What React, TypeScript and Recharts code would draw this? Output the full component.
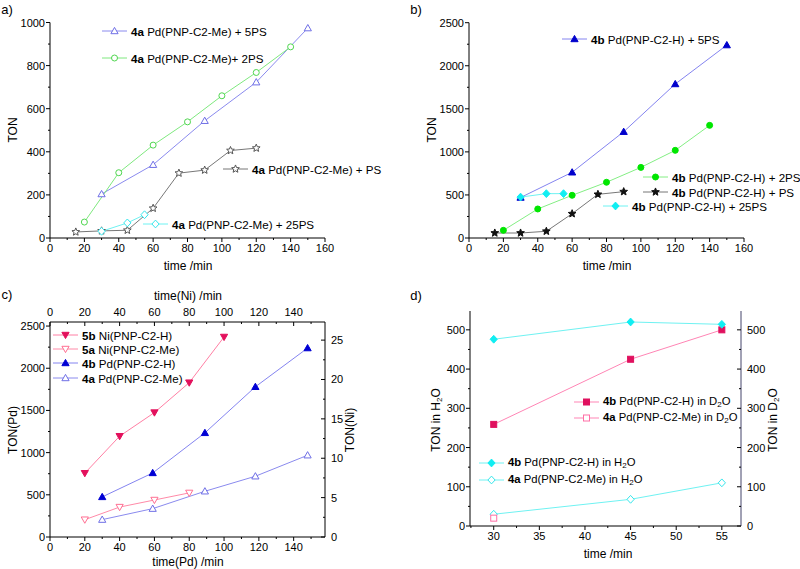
import React from "react";
import { LineChart, Line, XAxis, YAxis } from "recharts";

const FONT = '"Liberation Sans", Arial, Helvetica, sans-serif';

// ---------- panel a: 4a Pd(PNP-C2-Me) with different PS loadings ----------
const aTime5PS = [30, 60, 90, 120, 150];
const aTon5PS = [204, 340, 544, 723, 974];
const aTime2PS = [20, 40, 60, 80, 100, 120, 140];
const aTon2PS = [74, 303, 431, 539, 660, 768, 887];
const aTimePS = [15, 30, 45, 60, 75, 90, 105, 120];
const aTonPS = [28, 33, 36, 138, 301, 315, 406, 417];
const aTime25PS = [30, 45, 55];
const aTon25PS = [31, 70, 108];

// ---------- panel b: 4b Pd(PNP-C2-H) ----------
const bTime5PS = [30, 60, 90, 120, 150];
const bTon5PS = [470, 763, 1234, 1788, 2240];
const bTime2PS = [20, 40, 60, 80, 100, 120, 140];
const bTon2PS = [89, 337, 496, 647, 820, 1018, 1308];
const bTimePS = [15, 30, 45, 60, 75, 90];
const bTonPS = [58, 58, 78, 282, 507, 538];
const bTime25PS = [30, 45, 55];
const bTon25PS = [475, 515, 515];

// ---------- panel c: Ni vs Pd ----------
const cTimeNiH = [20, 40, 60, 80, 100];
const cTon5b = [8.1, 12.8, 15.8, 19.6, 25.4];
const cTimeNiMe = [20, 40, 60, 80];
const cTon5a = [2.2, 3.8, 4.7, 5.6];
const cTimePd = [30, 59, 89, 118, 148];
const cTon4b = [475, 759, 1234, 1780, 2239];
const cTon4a = [206, 336, 542, 720, 969];

// ---------- panel d: H2O vs D2O ----------
const dTime = [30, 45, 55];
const dTon4bD2O = [259, 425, 500];
const dTime4aD2O = [30];
const dTon4aD2O = [20];
const dTon4bH2O = [476, 520, 514];
const dTon4aH2O = [30, 68, 110];

// ---------- ticks ----------
const timeMajor = [0, 20, 40, 60, 80, 100, 120, 140, 160];
const timeMinor = [10, 30, 50, 70, 90, 110, 130, 150];
const aYMajor = [0, 200, 400, 600, 800, 1000];
const aYMinor = [100, 300, 500, 700, 900];
const bYMajor = [0, 500, 1000, 1500, 2000, 2500];
const bYMinor = [250, 750, 1250, 1750, 2250];
const cTimeMajor = [0, 20, 40, 60, 80, 100, 120, 140];
const cNiMajor = [0, 5, 10, 15, 20, 25];
const cNiMinor = [2.5, 7.5, 12.5, 17.5, 22.5];
const dXMajor = [30, 35, 40, 45, 50, 55];
const dXMinor = [27.5, 32.5, 37.5, 42.5, 47.5, 52.5];
const dYMajor = [0, 100, 200, 300, 400, 500];
const dYMinor = [50, 150, 250, 350, 450];

// reserved axis room (margins below are reduced by these)
const AXH = 20;
const AXW = 30;

type Kind = "tri" | "triDown" | "circle" | "star" | "diamond" | "square";

type Series = {
  xs: number[];
  ys: number[];
  line: string;
  kind: Kind;
  fill: string;
  stroke: string;
  yAxisId?: string;
};

function Mark({ cx, cy, kind, fill, stroke, r = 3 }: { cx: number; cy: number; kind: Kind; fill: string; stroke: string; r?: number }) {
  const p = { fill, stroke, strokeWidth: 1 };
  if (kind === "circle") return <circle cx={cx} cy={cy} r={r} {...p} />;
  if (kind === "square") return <rect x={cx - r} y={cy - r} width={r * 2} height={r * 2} {...p} />;
  if (kind === "tri")
    return <polygon points={`${cx},${cy - r * 1.2} ${cx - r * 1.2},${cy + r * 0.9} ${cx + r * 1.2},${cy + r * 0.9}`} {...p} />;
  if (kind === "triDown")
    return <polygon points={`${cx},${cy + r * 1.2} ${cx - r * 1.2},${cy - r * 0.9} ${cx + r * 1.2},${cy - r * 0.9}`} {...p} />;
  if (kind === "diamond")
    return <polygon points={`${cx},${cy - r * 1.3} ${cx + r * 1.2},${cy} ${cx},${cy + r * 1.3} ${cx - r * 1.2},${cy}`} {...p} />;
  // star
  const pts: string[] = [];
  for (let i = 0; i < 10; i++) {
    const rad = i % 2 === 0 ? r * 1.35 : r * 0.6;
    const a = -Math.PI / 2 + (i * Math.PI) / 5;
    pts.push(`${cx + rad * Math.cos(a)},${cy + rad * Math.sin(a)}`);
  }
  return <polygon points={pts.join(" ")} {...p} />;
}

type Side = "bottom" | "left" | "right" | "top";

// custom tick: draws the tick line itself (major 4px, minor 2px) and a label for majors
function tickRenderer(side: Side, majors: number[], inward = false) {
  return (props: any) => {
    const { x, y, payload } = props;
    const v = payload.value;
    const major = majors.includes(v);
    const L = major ? 4 : 2;
    const d = inward ? -1 : 1;
    let x2 = x, y2 = y, tx = x, ty = y, anchor: "middle" | "end" | "start" = "middle";
    if (side === "bottom") { y2 = y + d * L; ty = y + 14; }
    if (side === "top") { y2 = y - d * L; ty = y - 6; }
    if (side === "left") { x2 = x - d * L; tx = x - 5; ty = y + 4; anchor = "end"; }
    if (side === "right") { x2 = x + d * L; tx = x + 6; ty = y + 4; anchor = "start"; }
    return (
      <g>
        <line x1={x} y1={y} x2={x2} y2={y2} stroke="#000" strokeWidth={1} />
        {major && (
          <text x={tx} y={ty} textAnchor={anchor} fontSize={11} fontFamily={FONT} fill="#000">
            {v}
          </text>
        )}
      </g>
    );
  };
}

const toPts = (xs: number[], ys: number[]) => xs.map((x, i) => ({ x, y: ys[i] }));

function renderLine(s: Series, key: string) {
  return (
    <Line
      key={key}
      data={toPts(s.xs, s.ys)}
      dataKey="y"
      xAxisId="x"
      yAxisId={s.yAxisId ?? "y"}
      type="linear"
      stroke={s.line}
      strokeWidth={1}
      isAnimationActive={false}
      activeDot={false}
      dot={(p: any) => <Mark key={`${key}-${p.index}`} cx={p.cx} cy={p.cy} kind={s.kind} fill={s.fill} stroke={s.stroke} />}
    />
  );
}

function xAxis(id: string, side: "bottom" | "top", domain: [number, number], majors: number[], minors: number[], inward = false) {
  return (
    <XAxis
      xAxisId={id}
      orientation={side}
      type="number"
      dataKey="x"
      domain={domain}
      allowDataOverflow
      ticks={[...majors, ...minors].sort((a, b) => a - b)}
      interval={0}
      height={AXH}
      tickSize={0}
      tickMargin={0}
      tickLine={false}
      axisLine={{ stroke: "#000" }}
      tick={tickRenderer(side, majors, inward)}
    />
  );
}

function yAxis(id: string, side: "left" | "right", domain: [number, number], majors: number[], minors: number[], inward = false, color = "#000") {
  return (
    <YAxis
      yAxisId={id}
      orientation={side}
      type="number"
      domain={domain}
      allowDataOverflow
      ticks={[...majors, ...minors].sort((a, b) => a - b)}
      interval={0}
      width={AXW}
      tickSize={0}
      tickMargin={0}
      tickLine={false}
      axisLine={{ stroke: color }}
      tick={tickRenderer(side, majors, inward)}
    />
  );
}

function Title({ x, y, rotate, size = 12, children }: { x: number; y: number; rotate?: boolean; size?: number; children: React.ReactNode }) {
  return (
    <div
      style={{
        position: "absolute",
        left: x,
        top: y,
        transform: `translate(-50%, -50%)${rotate ? " rotate(-90deg)" : ""}`,
        whiteSpace: "nowrap",
        fontSize: size,
        fontFamily: FONT,
        color: "#000",
        lineHeight: 1,
      }}
    >
      {children}
    </div>
  );
}

function LegendItem({ x, y, s, bold, children, len = 25, size = 11.6 }: { x: number; y: number; s: Series; bold: string; children: React.ReactNode; len?: number; size?: number }) {
  return (
    <div style={{ position: "absolute", left: x, top: y - 8, height: 16, display: "flex", alignItems: "center", whiteSpace: "nowrap", fontFamily: FONT, fontSize: size, color: "#000" }}>
      <svg width={len} height={12} style={{ display: "block" }}>
        <line x1={0} y1={6} x2={len} y2={6} stroke={s.line} strokeWidth={1} />
        <Mark cx={len / 2} cy={6} kind={s.kind} fill={s.fill} stroke={s.stroke} />
      </svg>
      <span style={{ marginLeft: 4 }}>
        <b>{bold}</b> {children}
      </span>
    </div>
  );
}

const sub = (t: string) => <sub style={{ fontSize: 8, verticalAlign: -2 }}>{t}</sub>;

// ---------- series styles ----------
const sA5: Series = { xs: aTime5PS, ys: aTon5PS, line: "#8a8aee", kind: "tri", fill: "#fff", stroke: "#6f6fe6" };
const sA2: Series = { xs: aTime2PS, ys: aTon2PS, line: "#7ee87e", kind: "circle", fill: "#fff", stroke: "#4fd64f" };
const sA1: Series = { xs: aTimePS, ys: aTonPS, line: "#777", kind: "star", fill: "#fff", stroke: "#555" };
const sA25: Series = { xs: aTime25PS, ys: aTon25PS, line: "#6ff2f2", kind: "diamond", fill: "#fff", stroke: "#36e6ec" };

const sB5: Series = { xs: bTime5PS, ys: bTon5PS, line: "#8484f0", kind: "tri", fill: "#0000cc", stroke: "#0000cc" };
const sB2: Series = { xs: bTime2PS, ys: bTon2PS, line: "#84ee84", kind: "circle", fill: "#00e600", stroke: "#00e600" };
const sB1: Series = { xs: bTimePS, ys: bTonPS, line: "#777", kind: "star", fill: "#111", stroke: "#111" };
const sB25: Series = { xs: bTime25PS, ys: bTon25PS, line: "#6ff2f2", kind: "diamond", fill: "#10eef2", stroke: "#10eef2" };

const sC5b: Series = { xs: cTimeNiH, ys: cTon5b, line: "#ff7fa4", kind: "triDown", fill: "#e3105c", stroke: "#e3105c", yAxisId: "r" };
const sC5a: Series = { xs: cTimeNiMe, ys: cTon5a, line: "#ff8aa8", kind: "triDown", fill: "#fff", stroke: "#ff6f92", yAxisId: "r" };
const sC4b: Series = { xs: cTimePd, ys: cTon4b, line: "#8484f0", kind: "tri", fill: "#0000d4", stroke: "#0000d4" };
const sC4a: Series = { xs: cTimePd, ys: cTon4a, line: "#8a8aee", kind: "tri", fill: "#fff", stroke: "#6f6fe6" };

const sD4bD: Series = { xs: dTime, ys: dTon4bD2O, line: "#ff85b5", kind: "square", fill: "#e0105e", stroke: "#e0105e", yAxisId: "r" };
const sD4aD: Series = { xs: dTime4aD2O, ys: dTon4aD2O, line: "#ff85b5", kind: "square", fill: "#fff", stroke: "#ff6fa6", yAxisId: "r" };
const sD4bH: Series = { xs: dTime, ys: dTon4bH2O, line: "#6ff2f2", kind: "diamond", fill: "#10eef2", stroke: "#10eef2" };
const sD4aH: Series = { xs: dTime, ys: dTon4aH2O, line: "#6ff2f2", kind: "diamond", fill: "#fff", stroke: "#36e6ec" };

export default function App() {
  return (
    <div style={{ position: "absolute", left: 0, top: 0, width: 800, height: 569, background: "#fff", fontFamily: FONT, overflow: "hidden" }}>
      {/* panel a: plot box x 50-325, y 22.5-238 */}
      <div style={{ position: "absolute", left: 0, top: 0 }}>
        <LineChart width={400} height={280} margin={{ top: 22.5, right: 75, bottom: 42 - AXH, left: 50 - AXW }}>
          {xAxis("x", "bottom", [0, 160], timeMajor, timeMinor)}
          {yAxis("y", "left", [0, 1000], aYMajor, aYMinor)}
          {renderLine(sA5, "a5")}
          {renderLine(sA2, "a2")}
          {renderLine(sA1, "a1")}
          {renderLine(sA25, "a25")}
        </LineChart>
      </div>
      {/* panel b: plot box x 469-744, y 22.7-238 */}
      <div style={{ position: "absolute", left: 400, top: 0 }}>
        <LineChart width={400} height={280} margin={{ top: 22.7, right: 56, bottom: 42 - AXH, left: 69 - AXW }}>
          {xAxis("x", "bottom", [0, 160], timeMajor, timeMinor)}
          {yAxis("y", "left", [0, 2500], bYMajor, bYMinor)}
          {renderLine(sB5, "b5")}
          {renderLine(sB2, "b2")}
          {renderLine(sB1, "b1")}
          {renderLine(sB25, "b25")}
        </LineChart>
      </div>
      {/* panel c: plot box x 50-325, y 322-537 */}
      <div style={{ position: "absolute", left: 0, top: 280 }}>
        <LineChart width={400} height={289} margin={{ top: 42 - AXH, right: 75 - AXW, bottom: 32 - AXH, left: 50 - AXW }}>
          {xAxis("x", "bottom", [0, 158], cTimeMajor, timeMinor.slice(0, 8))}
          {xAxis("t", "top", [0, 158], cTimeMajor, timeMinor.slice(0, 8), true)}
          {yAxis("y", "left", [0, 2548], bYMajor, bYMinor)}
          {yAxis("r", "right", [0, 27.3], cNiMajor, cNiMinor, true)}
          {renderLine(sC4a, "c4a")}
          {renderLine(sC4b, "c4b")}
          {renderLine(sC5a, "c5a")}
          {renderLine(sC5b, "c5b")}
        </LineChart>
      </div>
      {/* panel d: plot box x 470-741, y 311-526 */}
      <div style={{ position: "absolute", left: 400, top: 280 }}>
        <LineChart width={400} height={289} margin={{ top: 31, right: 59 - AXW, bottom: 43 - AXH, left: 70 - AXW }}>
          {xAxis("x", "bottom", [27.4, 57.1], dXMajor, dXMinor)}
          {yAxis("y", "left", [0, 548], dYMajor, dYMinor)}
          {yAxis("r", "right", [0, 548], dYMajor, dYMinor, true, "#44446a")}
          {renderLine(sD4aH, "d4aH")}
          {renderLine(sD4bD, "d4bD")}
          {renderLine(sD4aD, "d4aD")}
          {renderLine(sD4bH, "d4bH")}
        </LineChart>
      </div>

      {/* panel letters */}
      <Title x={7} y={9} size={13}>a)</Title>
      <Title x={416} y={9} size={13}>b)</Title>
      <Title x={7} y={294} size={13}>c)</Title>
      <Title x={416} y={295} size={13}>d)</Title>

      {/* axis titles */}
      <Title x={13} y={130} rotate>TON</Title>
      <Title x={188} y={266}>time /min</Title>
      <Title x={432} y={130} rotate>TON</Title>
      <Title x={607} y={266}>time /min</Title>
      <Title x={188} y={296}>time(Ni) /min</Title>
      <Title x={13} y={430} rotate>TON(Pd)</Title>
      <Title x={350} y={430} rotate>TON(Ni)</Title>
      <Title x={188} y={562}>time(Pd) /min</Title>
      <Title x={437} y={420} rotate>TON in H{sub("2")}O</Title>
      <Title x={774} y={420} rotate>TON in D{sub("2")}O</Title>
      <Title x={608} y={554}>time /min</Title>

      {/* legends a */}
      <LegendItem x={102} y={31} s={sA5} bold="4a">Pd(PNP-C2-Me) + 5PS</LegendItem>
      <LegendItem x={102} y={58} s={sA2} bold="4a">Pd(PNP-C2-Me)+ 2PS</LegendItem>
      <LegendItem x={223} y={169} s={sA1} bold="4a">Pd(PNP-C2-Me) + PS</LegendItem>
      <LegendItem x={143} y={224} s={sA25} bold="4a">Pd(PNP-C2-Me) + 25PS</LegendItem>

      {/* legends b */}
      <LegendItem x={562} y={39} s={sB5} bold="4b">Pd(PNP-C2-H) + 5PS</LegendItem>
      <LegendItem x={643} y={177} s={sB2} bold="4b">Pd(PNP-C2-H) + 2PS</LegendItem>
      <LegendItem x={643} y={192} s={sB1} bold="4b">Pd(PNP-C2-H) + PS</LegendItem>
      <LegendItem x={603} y={206} s={sB25} bold="4b">Pd(PNP-C2-H) + 25PS</LegendItem>

      {/* legends c */}
      <LegendItem x={53} y={335} s={sC5b} bold="5b">Ni(PNP-C2-H)</LegendItem>
      <LegendItem x={53} y={349} s={sC5a} bold="5a">Ni(PNP-C2-Me)</LegendItem>
      <LegendItem x={53} y={363} s={sC4b} bold="4b">Pd(PNP-C2-H)</LegendItem>
      <LegendItem x={53} y={378} s={sC4a} bold="4a">Pd(PNP-C2-Me)</LegendItem>

      {/* legends d */}
      <LegendItem x={574} y={402} s={sD4bD} bold="4b" size={11.3}>Pd(PNP-C2-H) in D{sub("2")}O</LegendItem>
      <LegendItem x={574} y={418} s={sD4aD} bold="4a" size={11.3}>Pd(PNP-C2-Me) in D{sub("2")}O</LegendItem>
      <LegendItem x={479} y={463} s={sD4bH} bold="4b" size={11.3}>Pd(PNP-C2-H) in H{sub("2")}O</LegendItem>
      <LegendItem x={479} y={480} s={sD4aH} bold="4a" size={11.3}>Pd(PNP-C2-Me) in H{sub("2")}O</LegendItem>
    </div>
  );
}
